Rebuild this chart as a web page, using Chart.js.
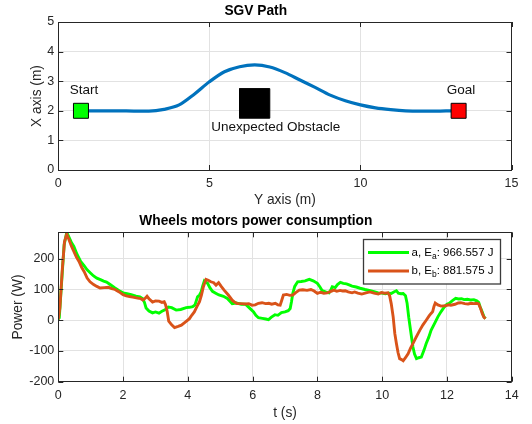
<!DOCTYPE html>
<html>
<head>
<meta charset="utf-8">
<script src="https://cdn.jsdelivr.net/npm/chart.js@4/dist/chart.umd.min.js"></script>
<style>
  html, body { margin: 0; padding: 0; background: #fff; }
  #wrap { position: relative; width: 532px; height: 424px; }
  #wrap canvas { position: absolute; left: 0; top: 0; }
</style>
</head>
<body>
<div id="wrap">
  <canvas id="pathChart" width="532" height="424"></canvas>
  <canvas id="powerChart" width="532" height="424"></canvas>
</div>
<script>
// ---- SGV path (horizontal = Y axis, vertical = X axis, metres) ----
const pathYm = [1.0, 1.5, 2.0, 2.5, 3.0, 3.5, 4.0, 4.5, 5.0, 5.5, 6.0, 6.5, 7.0, 7.5, 8.0, 8.5, 9.0, 9.5, 10.0, 10.5, 11.0, 11.5, 12.0, 12.5, 13.0];
const pathXm = [2.0, 2.0, 2.0, 1.99, 1.99, 2.05, 2.2, 2.56, 2.98, 3.32, 3.49, 3.55, 3.48, 3.29, 3.04, 2.79, 2.53, 2.34, 2.2, 2.1, 2.04, 2.0, 1.99, 1.99, 2.0];
const startPos = [0.75, 2.0];
const goalPos = [13.25, 2.0];
const obstacleYm = [6.0, 7.0, 7.0, 6.0, 6.0];
const obstacleXm = [1.75, 1.75, 2.75, 2.75, 1.75];
const pathYTicks = [0, 5, 10, 15];
const pathXTicks = [0, 1, 2, 3, 4, 5];

// ---- Wheel motor power (W) over time (s) ----
const tA = [0, 0.03, 0.1, 0.18, 0.26, 0.34, 0.41, 0.48, 0.58, 0.69, 0.79, 0.89, 1.0, 1.09, 1.19, 1.3, 1.4, 1.49, 1.6, 1.75, 1.88, 2.0, 2.12, 2.25, 2.4, 2.52, 2.61, 2.66, 2.71, 2.8, 2.91, 3.0, 3.11, 3.2, 3.31, 3.4, 3.5, 3.64, 3.78, 3.95, 4.05, 4.15, 4.22, 4.3, 4.36, 4.41, 4.46, 4.51, 4.56, 4.61, 4.68, 4.76, 4.86, 4.96, 5.1, 5.22, 5.3, 5.37, 5.5, 5.65, 5.78, 5.9, 6.03, 6.1, 6.18, 6.3, 6.41, 6.49, 6.58, 6.69, 6.78, 6.89, 7.0, 7.1, 7.16, 7.2, 7.24, 7.3, 7.39, 7.5, 7.62, 7.75, 7.87, 8.0, 8.08, 8.15, 8.25, 8.36, 8.42, 8.46, 8.55, 8.62, 8.71, 8.8, 8.9, 9.0, 9.07, 9.2, 9.32, 9.47, 9.6, 9.75, 9.88, 10.0, 10.1, 10.2, 10.28, 10.36, 10.44, 10.5, 10.58, 10.65, 10.72, 10.77, 10.82, 10.88, 10.95, 11.0, 11.06, 11.13, 11.21, 11.29, 11.36, 11.44, 11.51, 11.62, 11.72, 11.82, 11.92, 12.0, 12.07, 12.17, 12.27, 12.36, 12.45, 12.53, 12.63, 12.73, 12.83, 12.92, 12.98, 13.03, 13.09, 13.14, 13.19];
const powerA = [3, 8, 120, 245, 286, 268, 252, 240, 214, 191, 178, 164, 153, 144, 137, 132, 127, 124, 116, 105, 96, 89, 86, 83, 78, 76, 70, 58, 40, 30, 24, 27, 23, 29, 35, 43, 41, 33, 35, 41, 42, 44, 50, 76, 82, 92, 112, 128, 124, 120, 106, 94, 88, 82, 78, 71, 62, 54, 56, 52, 52, 40, 27, 16, 8, 6, 4, 2, 10, 18, 16, 25, 27, 31, 38, 60, 87, 110, 125, 126, 128, 133, 128, 120, 108, 96, 92, 89, 100, 109, 106, 116, 123, 120, 118, 114, 111, 108, 104, 100, 97, 93, 89, 88, 86, 88, 87, 92, 96, 88, 86, 87, 80, 55, 10, -35, -87, -110, -125, -122, -120, -98, -76, -55, -33, -10, 11, 28, 43, 52, 55, 64, 71, 69, 70, 67, 68, 66, 67, 63, 58, 42, 27, 12, 5];

const tB = [0, 0.05, 0.12, 0.19, 0.26, 0.33, 0.41, 0.48, 0.56, 0.64, 0.72, 0.8, 0.89, 0.98, 1.09, 1.19, 1.29, 1.42, 1.55, 1.65, 1.75, 1.88, 2.0, 2.1, 2.2, 2.3, 2.45, 2.55, 2.61, 2.67, 2.74, 2.8, 2.91, 3.0, 3.11, 3.2, 3.27, 3.31, 3.36, 3.41, 3.5, 3.59, 3.7, 3.8, 3.92, 4.05, 4.12, 4.2, 4.28, 4.36, 4.42, 4.48, 4.56, 4.63, 4.71, 4.8, 4.87, 4.95, 5.03, 5.12, 5.25, 5.37, 5.45, 5.52, 5.65, 5.78, 5.88, 5.98, 6.08, 6.18, 6.29, 6.4, 6.5, 6.59, 6.7, 6.78, 6.85, 6.9, 6.95, 7.05, 7.15, 7.24, 7.33, 7.44, 7.55, 7.68, 7.8, 7.9, 8.0, 8.1, 8.2, 8.3, 8.4, 8.51, 8.6, 8.7, 8.78, 8.86, 8.95, 9.07, 9.15, 9.25, 9.37, 9.5, 9.62, 9.75, 9.88, 9.98, 10.08, 10.18, 10.23, 10.28, 10.34, 10.39, 10.44, 10.49, 10.54, 10.6, 10.65, 10.72, 10.8, 10.88, 10.95, 11.05, 11.16, 11.26, 11.36, 11.45, 11.51, 11.56, 11.6, 11.64, 11.72, 11.82, 11.95, 12.05, 12.12, 12.25, 12.35, 12.43, 12.55, 12.65, 12.75, 12.83, 12.92, 12.98, 13.04, 13.09, 13.14, 13.19];
const powerB = [3, 40, 160, 255, 280, 262, 240, 224, 205, 191, 172, 158, 137, 125, 116, 110, 105, 106, 107, 103, 100, 92, 83, 79, 77, 75, 72, 70, 66, 70, 78, 70, 59, 63, 62, 58, 60, 51, 30, -3, -15, -24, -20, -16, -6, 5, 16, 27, 44, 60, 82, 109, 133, 130, 125, 122, 114, 122, 110, 98, 82, 65, 58, 54, 54, 53, 54, 49, 50, 55, 57, 54, 55, 52, 55, 50, 49, 65, 82, 84, 81, 82, 90, 98, 99, 97, 100, 95, 87, 91, 88, 89, 93, 98, 94, 97, 95, 96, 92, 89, 92, 88, 85, 89, 92, 88, 85, 90, 88, 89, 80, 54, 11, -43, -76, -105, -125, -128, -132, -122, -109, -90, -76, -55, -33, -15, 0, 14, 22, 28, 45, 56, 50, 46, 47, 50, 49, 52, 56, 57, 54, 53, 55, 54, 55, 53, 38, 22, 10, 5];

const energyA = 966.557;
const energyB = 881.575;
const tTicks = [0, 2, 4, 6, 8, 10, 12, 14];
const powerTicks = [-200, -100, 0, 100, 200];

// ---- shared styling ----
const FONT = "'Liberation Sans', Arial, Helvetica, sans-serif";
const AXIS_COLOR = '#262626';
const GRID_COLOR = '#e2e2e2';

const pts = (xs, ys) => xs.map((v, i) => ({ x: v, y: ys[i] }));
const fixedTicks = list => scale => { scale.ticks = list.map(v => ({ value: v })); };

// Box around the axes with inward tick marks on all four sides
const boxTicks = {
  id: 'boxTicks',
  afterDatasetsDraw(chart) {
    const { ctx, chartArea: a, scales: { x, y } } = chart;
    const L = 5;
    ctx.save();
    ctx.strokeStyle = AXIS_COLOR;
    ctx.lineWidth = 1;
    ctx.beginPath();
    x.ticks.forEach(t => {
      const px = Math.round(x.getPixelForValue(t.value)) + 0.5;
      ctx.moveTo(px, a.bottom); ctx.lineTo(px, a.bottom - L);
      ctx.moveTo(px, a.top); ctx.lineTo(px, a.top + L);
    });
    y.ticks.forEach(t => {
      const py = Math.round(y.getPixelForValue(t.value)) + 0.5;
      ctx.moveTo(a.left, py); ctx.lineTo(a.left + L, py);
      ctx.moveTo(a.right, py); ctx.lineTo(a.right - L, py);
    });
    ctx.stroke();
    ctx.strokeRect(Math.round(a.left) + 0.5, Math.round(a.top) + 0.5,
                   Math.round(a.right - a.left), Math.round(a.bottom - a.top));
    ctx.restore();
  }
};

// Text notes placed at data coordinates on the path plot
const pathNotes = {
  id: 'pathNotes',
  afterDatasetsDraw(chart) {
    const { ctx, scales: { x, y } } = chart;
    const notes = [
      { text: 'Start', at: [0.85, 2.68] },
      { text: 'Goal', at: [13.33, 2.68] },
      { text: 'Unexpected Obstacle', at: [7.2, 1.45] }
    ];
    ctx.save();
    ctx.font = `13.5px ${FONT}`;
    ctx.fillStyle = '#111';
    ctx.textAlign = 'center';
    ctx.textBaseline = 'middle';
    notes.forEach(n => ctx.fillText(n.text, x.getPixelForValue(n.at[0]), y.getPixelForValue(n.at[1])));
    ctx.restore();
  }
};

// Legend with subscripted energy symbols
const energyLegend = {
  id: 'energyLegend',
  afterDraw(chart) {
    const { ctx } = chart;
    const box = { x: 363.5, y: 239.5, w: 137, h: 44.5 };
    const rows = [
      { color: '#00ff00', name: 'a', sub: 'a', value: energyA },
      { color: '#d95319', name: 'b', sub: 'b', value: energyB }
    ];
    ctx.save();
    ctx.fillStyle = '#fff';
    ctx.fillRect(box.x, box.y, box.w, box.h);
    ctx.strokeStyle = '#3a3a3a';
    ctx.lineWidth = 1.3;
    ctx.strokeRect(box.x, box.y, box.w, box.h);
    rows.forEach((r, i) => {
      const cy = 252.5 + i * 18.5;
      ctx.strokeStyle = r.color;
      ctx.lineWidth = 3;
      ctx.beginPath();
      ctx.moveTo(368, cy); ctx.lineTo(409, cy);
      ctx.stroke();
      ctx.fillStyle = '#000';
      ctx.textBaseline = 'middle';
      ctx.textAlign = 'left';
      let tx = 411.5;
      ctx.font = `11.5px ${FONT}`;
      const head = `${r.name}, E`;
      ctx.fillText(head, tx, cy);
      tx += ctx.measureText(head).width;
      ctx.font = `8.5px ${FONT}`;
      ctx.fillText(r.sub, tx, cy + 4);
      tx += ctx.measureText(r.sub).width;
      ctx.font = `11.5px ${FONT}`;
      ctx.fillText(`: ${r.value.toFixed(3)} J`, tx, cy);
    });
    ctx.restore();
  }
};

const tickFont = { family: FONT, size: 12.5 };
const labelFont = { family: FONT, size: 13.75 };
const titleFont = { family: FONT, size: 13.75, weight: 'bold' };

function axis(min, max, list, label, isX, titlePad, fitSize) {
  return {
    type: 'linear',
    position: isX ? 'bottom' : 'left',
    min, max,
    afterBuildTicks: fixedTicks(list),
    afterFit: s => { if (isX) s.height = fitSize; else s.width = fitSize; },
    grid: { color: GRID_COLOR, lineWidth: 1, drawTicks: false },
    border: { display: false },
    ticks: { font: tickFont, color: AXIS_COLOR, padding: isX ? 6.5 : 4, maxRotation: 0, autoSkip: false },
    title: { display: true, text: label, font: labelFont, color: AXIS_COLOR, padding: titlePad }
  };
}

new Chart(document.getElementById('pathChart'), {
  type: 'scatter',
  data: {
    datasets: [
      { label: 'Start', data: [{ x: startPos[0], y: startPos[1] }], pointStyle: 'rect', pointRadius: 10.6,
        backgroundColor: '#00ff00', borderColor: '#000', borderWidth: 1, order: 0 },
      { label: 'Goal', data: [{ x: goalPos[0], y: goalPos[1] }], pointStyle: 'rect', pointRadius: 10.6,
        backgroundColor: '#ff0000', borderColor: '#000', borderWidth: 1, order: 0 },
      { label: 'Obstacle', data: pts(obstacleYm, obstacleXm), showLine: true, fill: 'shape',
        backgroundColor: '#000', borderColor: '#000', borderWidth: 1, pointRadius: 0, order: 1 },
      { label: 'Path', data: pts(pathYm, pathXm), showLine: true, borderColor: '#0072bd', borderWidth: 3.2,
        pointRadius: 0, cubicInterpolationMode: 'monotone', order: 2 }
    ]
  },
  options: {
    responsive: false,
    animation: false,
    layout: { padding: { left: 0, right: 20.5, top: 0, bottom: 212 } },
    plugins: {
      legend: { display: false },
      tooltip: { enabled: false },
      title: { display: true, text: 'SGV Path', font: titleFont, color: '#000', padding: { top: 2.5, bottom: 3 } }
    },
    scales: {
      x: axis(0, 15, pathYTicks, 'Y axis (m)', true, { top: 0, bottom: 3.25 }, 42),
      y: axis(0, 5, pathXTicks, 'X axis (m)', false, { top: 28.75, bottom: 0 }, 58.3)
    }
  },
  plugins: [boxTicks, pathNotes]
});

new Chart(document.getElementById('powerChart'), {
  type: 'scatter',
  data: {
    datasets: [
      { label: 'a', data: pts(tA, powerA), showLine: true, borderColor: '#00ff00', borderWidth: 2.9,
        pointRadius: 0, order: 1 },
      { label: 'b', data: pts(tB, powerB), showLine: true, borderColor: '#d95319', borderWidth: 2.9,
        pointRadius: 0, order: 0 }
    ]
  },
  options: {
    responsive: false,
    animation: false,
    layout: { padding: { left: 0, right: 20.3, top: 205, bottom: 0 } },
    plugins: {
      legend: { display: false },
      tooltip: { enabled: false },
      title: { display: true, text: 'Wheels motors power consumption', font: titleFont, color: '#000',
               padding: { top: 8.45, bottom: 2.35 } }
    },
    scales: {
      x: axis(0, 14, tTicks, 't (s)', true, { top: 0, bottom: 2.75 }, 42.3),
      y: axis(-200, 286, powerTicks, 'Power (W)', false, { top: 9.75, bottom: 0 }, 58.3)
    }
  },
  plugins: [boxTicks, energyLegend]
});
</script>
</body>
</html>
